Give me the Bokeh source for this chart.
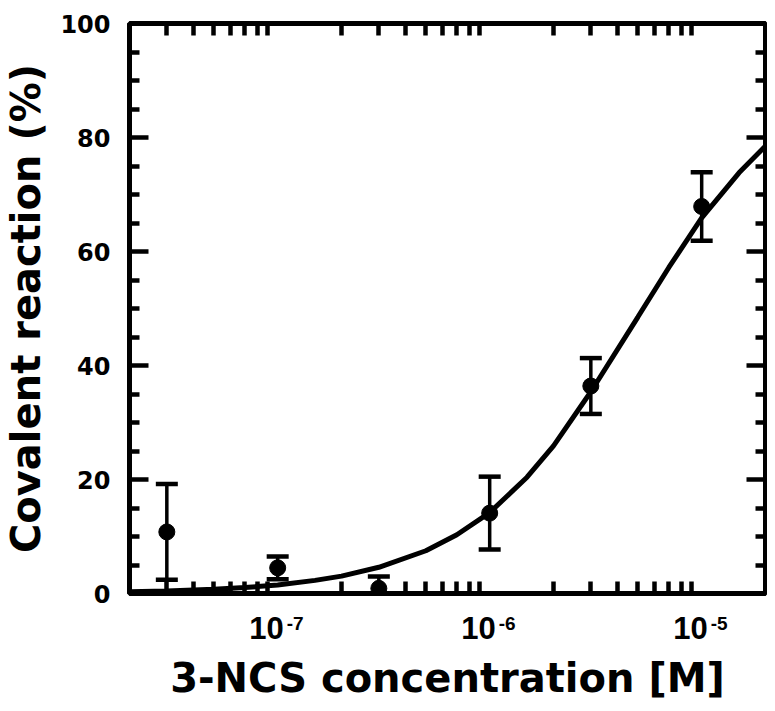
from bokeh.plotting import figure
from bokeh.models import Range1d, FixedTicker, LinearAxis, LogAxis, ColumnDataSource
from bokeh.embed import file_html
from bokeh.resources import INLINE

# measured points
conc = [3e-8, 1e-7, 3e-7, 1e-6, 3e-6, 1e-5]
reaction = [10.8, 4.5, 0.9, 14.1, 36.4, 67.9]
err = [8.4, 2.0, 2.1, 6.4, 4.9, 6.0]

# fitted curve
fit_conc = [2e-8, 3e-8, 5e-8, 7e-8, 1e-7, 1.5e-7, 2e-7, 3e-7, 5e-7, 7e-7,
            1e-6, 1.5e-6, 2e-6, 3e-6, 5e-6, 7e-6, 1e-5, 1.5e-5, 2e-5]
fit_reaction = [0.3, 0.45, 0.75, 1.05, 1.5, 2.3, 3.05, 4.6, 7.5, 10.3,
                14.2, 20.4, 25.9, 35.4, 48.5, 57.2, 65.9, 73.8, 78.5]

# axis ticks and labels
x_decades = [1e-7, 1e-6, 1e-5]
x_decade_base = ["10", "10", "10"]
x_decade_exp = ["-7", "-6", "-5"]
x_minor = [m * d for d in [1e-8, 1e-7, 1e-6] for m in [2, 3, 4, 5, 6, 7, 8, 9]] + [2e-5]
y_major = [0, 20, 40, 60, 80, 100]
y_minor = [5, 10, 15, 25, 30, 35, 45, 50, 55, 65, 70, 75, 85, 90, 95]
x_min, x_max = 2e-8, 2e-5
y_min, y_max = 0, 100

# label placement relative to each decade (log-scale factors = a few pixels)
BASE_SHIFT = 0.885   # "10" sits a little left of the decade
EXP_SHIFT = 1.21     # exponent sits to its upper right

upper = [r + e for r, e in zip(reaction, err)]
lower = [r - e for r, e in zip(reaction, err)]
src = ColumnDataSource(dict(x=conc, y=reaction, up=upper, lo=lower))
fit = ColumnDataSource(dict(x=fit_conc, y=fit_reaction))

p = figure(width=767, height=704, x_axis_type="log",
           x_range=Range1d(x_min, x_max), y_range=Range1d(y_min, y_max),
           output_backend="svg", toolbar_location=None,
           min_border_left=127, min_border_right=2, min_border_top=23, min_border_bottom=111)
p.grid.visible = False
p.outline_line_color = "black"
p.outline_line_width = 5
p.background_fill_color = "white"
p.border_fill_color = "white"

TF = "Liberation Sans"
TITLE_F = "DejaVu Sans"


def bare(ax):
    ax.axis_line_color = None
    ax.major_tick_line_color = None
    ax.major_tick_in = 0
    ax.major_tick_out = 0
    ax.minor_tick_out = 0
    ax.minor_tick_line_color = "black"
    ax.minor_tick_line_width = 4.5


def tick_axis(cls, ticks, length):
    ax = cls(ticker=FixedTicker(ticks=[], minor_ticks=ticks))
    bare(ax)
    ax.minor_tick_in = length
    return ax


# bottom axis 1: inward ticks + exponents
ax_exp = p.xaxis[0]
bare(ax_exp)
exp_ticks = [d * EXP_SHIFT for d in x_decades]
ax_exp.ticker = FixedTicker(ticks=exp_ticks, minor_ticks=x_minor)
ax_exp.minor_tick_in = 12
ax_exp.major_label_overrides = {t: e for t, e in zip(exp_ticks, x_decade_exp)}
ax_exp.major_label_text_font = TF
ax_exp.major_label_text_font_style = "bold"
ax_exp.major_label_text_font_size = "19px"
ax_exp.major_label_text_color = "black"
ax_exp.major_label_standoff = 23

# bottom axis 2: "10" + title
base_ticks = [d * BASE_SHIFT for d in x_decades]
ax_base = LogAxis(ticker=FixedTicker(ticks=base_ticks))
bare(ax_base)
ax_base.minor_tick_line_color = None
ax_base.major_label_overrides = {t: b for t, b in zip(base_ticks, x_decade_base)}
ax_base.major_label_text_font = TF
ax_base.major_label_text_font_style = "bold"
ax_base.major_label_text_font_size = "31px"
ax_base.major_label_text_color = "black"
ax_base.major_label_standoff = -16
ax_base.axis_label = "3-NCS concentration [M]"
ax_base.axis_label_standoff = 13
p.add_layout(ax_base, "below")

# left axis
ay = p.yaxis[0]
ay.ticker = FixedTicker(ticks=y_major, minor_ticks=y_minor)
ay.axis_line_color = None
ay.major_tick_line_color = "black"
ay.major_tick_line_width = 4.5
ay.major_tick_in = 19
ay.major_tick_out = 0
ay.minor_tick_line_color = "black"
ay.minor_tick_line_width = 4.5
ay.minor_tick_in = 10
ay.minor_tick_out = 0
ay.major_label_text_font = "DejaVu Sans"
ay.major_label_text_font_style = "bold"
ay.major_label_text_font_size = "24px"
ay.major_label_text_color = "black"
ay.major_label_standoff = 19
ay.axis_label = "Covalent reaction (%)"
ay.axis_label_standoff = 8

for ax in (ax_base, ay):
    ax.axis_label_text_font = TITLE_F
    ax.axis_label_text_font_style = "bold"
    ax.axis_label_text_font_size = "40px"
    ax.axis_label_text_color = "black"

# top and right: inward ticks only
p.add_layout(tick_axis(LogAxis, x_minor, 12), "above")
p.add_layout(tick_axis(LinearAxis, y_minor, 10), "right")
p.add_layout(tick_axis(LinearAxis, y_major, 19), "right")

p.line("x", "y", source=fit, line_color="black", line_width=5)
p.segment(x0="x", y0="lo", x1="x", y1="up", source=src, line_color="black", line_width=3.5)
p.scatter("x", "up", source=src, marker="dash", size=22, line_color="black", line_width=4.5)
p.scatter("x", "lo", source=src, marker="dash", size=22, line_color="black", line_width=4.5)
p.scatter("x", "y", source=src, marker="circle", size=16, fill_color="black", line_color="black")

open("out.html", "w").write(file_html(p, INLINE))
